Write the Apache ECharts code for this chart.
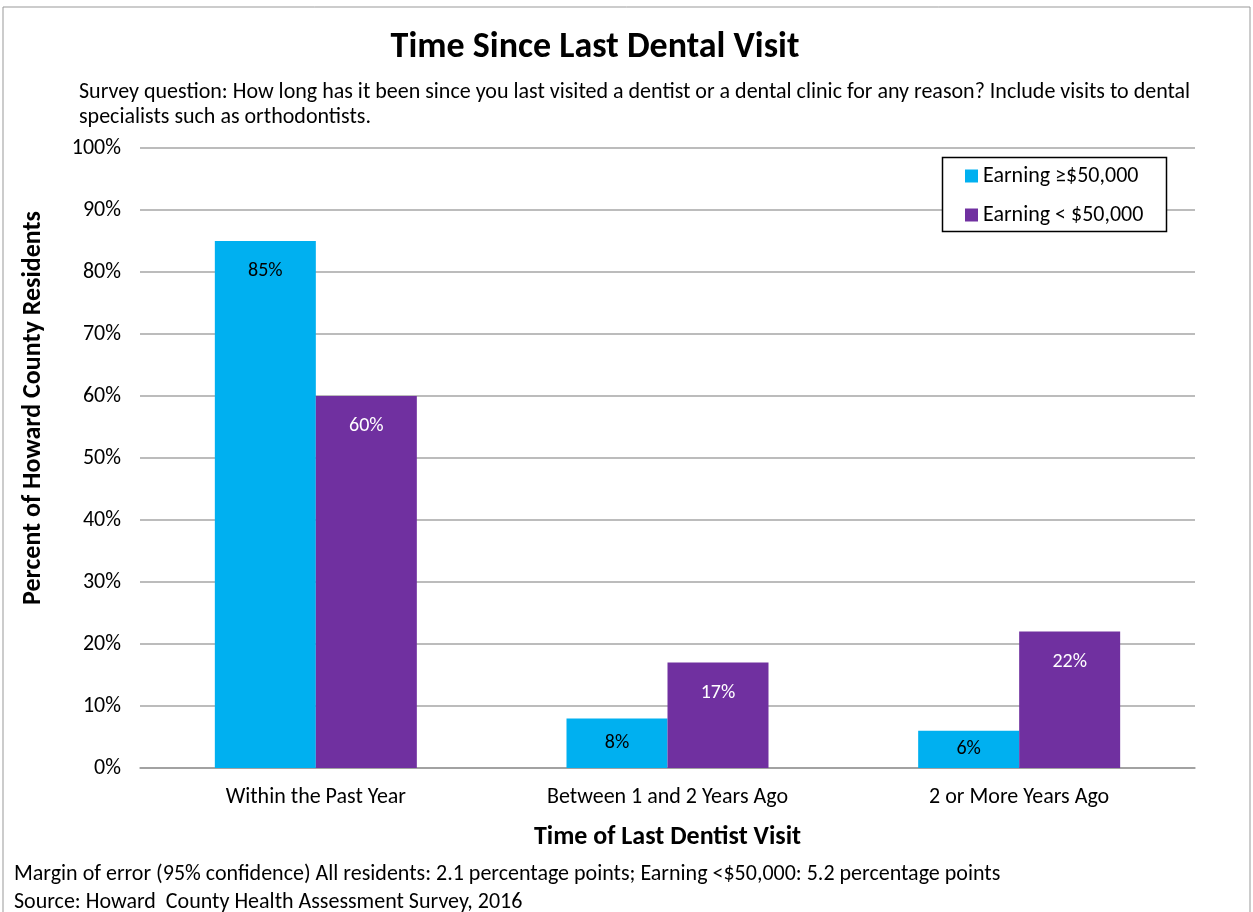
<!DOCTYPE html>
<html><head><meta charset="utf-8">
<script src="https://cdn.jsdelivr.net/npm/echarts@6/dist/echarts.min.js"></script>
<style>html,body{margin:0;padding:0;background:#fff}#c{width:1253px;height:912px}</style>
</head><body><div id="c"></div>
<script>
const categories = ['Within the Past Year', 'Between 1 and 2 Years Ago', '2 or More Years Ago'];
const seriesNames = ['Earning \u2265$50,000', 'Earning < $50,000'];
const high = [85, 8, 6];
const low = [60, 17, 22];
const yTicks = [0, 10, 20, 30, 40, 50, 60, 70, 80, 90, 100];

const FONT = 'Carlito, Lato, "Liberation Sans Narrow", sans-serif';
const chart = echarts.init(document.getElementById('c'));

function mk(vals, labelColor) {
  return vals.map(v => ({
    value: v,
    label: {
      show: true,
      position: v < 10 ? 'inside' : 'insideTop',
      distance: 20,
      color: labelColor,
      fontSize: 20,
      fontFamily: FONT,
      formatter: '{c}%'
    }
  }));
}

chart.setOption({
  animation: false,
  textStyle: { fontFamily: FONT },
  title: [
    { text: 'Time Since Last Dental Visit', left: 590, top: 25, textAlign: 'center',
      textStyle: { fontSize: 36, fontWeight: 'bold', color: '#000', fontFamily: FONT } },
    { text: 'Survey question: How long has it been since you last visited a dentist or a dental clinic for any reason? Include visits to dental\nspecialists such as orthodontists.',
      left: 74, top: 75, textStyle: { fontSize: 22, fontWeight: 'normal', color: '#000', lineHeight: 25, fontFamily: FONT } },
    { text: 'Margin of error (95% confidence) All residents: 2.1 percentage points; Earning <$50,000: 5.2 percentage points\nSource: Howard  County Health Assessment Survey, 2016',
      left: 9, top: 855, textStyle: { fontSize: 22, fontWeight: 'normal', color: '#000', lineHeight: 28, fontFamily: FONT } }
  ],
  graphic: [
    { type: 'rect', shape: { x: 3, y: 7, width: 1247, height: 910 }, style: { fill: 'none', stroke: '#999', lineWidth: 1 } },
    { type: 'rect', shape: { x: 942.5, y: 157.5, width: 224, height: 74 }, style: { fill: '#fff', stroke: '#000', lineWidth: 1.5 }, z: 5 },
    { type: 'text', x: 33, y: 408, rotation: Math.PI / 2,
      style: { text: 'Percent of Howard County Residents', align: 'center', verticalAlign: 'middle',
        font: 'bold 26px ' + FONT, fill: '#000' } }
  ],
  legend: {
    left: 960, top: 160, orient: 'vertical', itemGap: 17, itemWidth: 13, itemHeight: 13,
    icon: 'rect', z: 10,
    textStyle: { fontSize: 22, color: '#000', fontFamily: FONT },
    data: seriesNames
  },
  grid: { left: 140, right: 58, top: 148, bottom: 144 },
  xAxis: {
    type: 'category', data: categories,
    axisLine: { lineStyle: { color: '#999', width: 1.5 } },
    axisTick: { show: false },
    axisLabel: { fontSize: 22, color: '#000', margin: 18, fontFamily: FONT },
    name: 'Time of Last Dentist Visit', nameLocation: 'middle', nameGap: 56,
    nameTextStyle: { fontSize: 26, fontWeight: 'bold', color: '#000', fontFamily: FONT }
  },
  yAxis: {
    type: 'value', min: 0, max: 100, interval: 10,
    axisLine: { show: false }, axisTick: { show: false },
    axisLabel: { fontSize: 22, color: '#000', margin: 19, fontFamily: FONT,
      formatter: v => yTicks.includes(v) ? v + '%' : '' },
    splitLine: { lineStyle: { color: '#A6A6A6', width: 1.5 } }
  },
  series: [
    { name: seriesNames[0], type: 'bar', barWidth: 101, barGap: '0%', itemStyle: { color: '#00B0F0' },
      data: mk(high, '#000') },
    { name: seriesNames[1], type: 'bar', barWidth: 101, barGap: '0%', itemStyle: { color: '#7030A0' },
      data: mk(low, '#fff') }
  ]
});
</script></body></html>
